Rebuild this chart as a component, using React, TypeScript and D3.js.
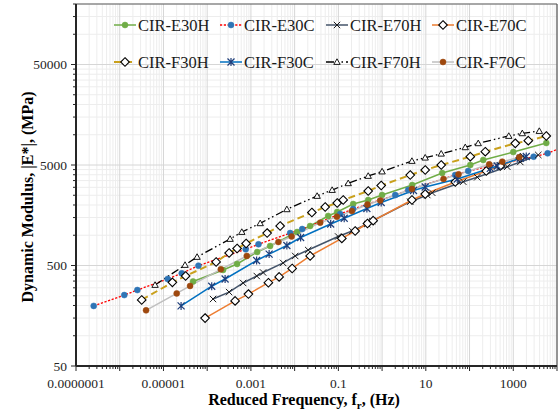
import React from "react";
import * as d3 from "d3";

// ---- data (reduced frequency Hz, dynamic modulus MPa) ----
const seriesNames = ["CIR-E30H", "CIR-E30C", "CIR-E70H", "CIR-E70C", "CIR-F30H", "CIR-F30C", "CIR-F70H", "CIR-F70C"];

const fE30H = [4.75e-5, 2.31e-4, 4.83e-4, 1.39e-3, 2.75e-3, 0.0114, 0.0226, 0.0585, 0.094, 0.218, 0.481, 1.0, 4.89, 23.7, 104, 206, 1000, 5690];
const eE30H = [347, 451, 518, 681, 782, 1077, 1236, 1555, 1703, 2046, 2244, 2513, 3162, 4159, 5000, 5610, 6730, 8280];

const fE30C = [2.54e-7, 1.27e-6, 2.53e-6, 1.25e-5, 2.62e-5, 6.3e-5, 7.6e-4, 1.49e-3, 7.9e-3, 0.0149, 0.11, 0.218, 2.0, 3.95, 47, 93, 2917, 6095, 15500];
const eE30C = [198, 254, 285, 367, 418, 498, 725, 813, 1052, 1153, 1627, 1825, 2512, 2818, 3975, 4356, 6053, 6531, 7727];

const fE70H = [1.36e-4, 3.17e-4, 6.64e-4, 1.36e-3, 1.9e-3, 5.46e-3, 0.0103, 0.0204, 0.0989, 0.207, 0.456, 0.593, 4.4, 10.8, 14.0, 71.8, 150, 729, 1445, 3733];
const eE70H = [232, 272, 335, 393, 426, 530, 622, 713, 972, 1102, 1294, 1387, 2158, 2513, 2649, 3412, 3776, 4808, 5358, 6295];

const fE70C = [8.95e-5, 4.35e-4, 8.77e-4, 2.51e-3, 4.42e-3, 8.77e-3, 0.0226, 0.12, 0.242, 0.463, 0.625, 4.81, 9.68, 47.1, 241, 505, 1445];
const eE70C = [150, 222, 260, 337, 385, 467, 622, 929, 1102, 1309, 1396, 2244, 2570, 3388, 4356, 4887, 5875];

const fF30H = [3.18e-6, 1.6e-5, 3.21e-5, 1.6e-4, 3.17e-4, 4.83e-4, 7.76e-4, 2.35e-3, 4.66e-3, 0.0248, 0.0499, 0.094, 0.129, 0.481, 0.953, 4.4, 9.68, 22.5, 104, 229, 1112, 2203, 5690];
const eF30H = [227, 340, 393, 542, 666, 738, 828, 1052, 1236, 1684, 1910, 2094, 2244, 2756, 3126, 3975, 4458, 5000, 6050, 6780, 8220, 8730, 9720];

const fF30C = [2.53e-5, 1.27e-4, 2.57e-4, 1.35e-3, 2.61e-3, 6.64e-3, 0.0137, 0.0667, 0.136, 0.449, 0.953, 5.23, 9.68, 52.4, 298, 430, 1445, 1982];
const eF30C = [198, 311, 367, 561, 650, 791, 950, 1294, 1476, 1845, 2118, 2786, 3020, 3631, 4634, 4887, 5834, 6081];

const fF70H = [6.43e-6, 3.12e-5, 5.87e-5, 3.34e-4, 6.19e-4, 1.63e-3, 6.64e-3, 0.0327, 0.0721, 0.168, 0.481, 1.0, 4.81, 9.68, 22.5, 79.8, 158, 789, 1607, 3936];
const eF70H = [320, 506, 608, 918, 1077, 1315, 1812, 2460, 2818, 3289, 3890, 4306, 5480, 5915, 6476, 7500, 8220, 9720, 10330, 10890];

const fF70C = [4.0e-6, 2.01e-5, 4.06e-5, 2.05e-4, 8.05e-4, 4.26e-3, 8.53e-3, 0.0384, 0.0925, 0.204, 0.463, 0.906, 4.81, 25.4, 56.0, 282, 560, 1371];
const eF70C = [179, 264, 313, 458, 622, 857, 972, 1334, 1531, 1742, 2023, 2218, 2884, 3631, 4036, 5082, 5395, 5970];

const xTickLabels = ["0.0000001", "0.00001", "0.001", "0.1", "10", "1000"];
const yTickLabels = ["50", "500", "5000", "50000"];

type Marker = "circle" | "diamond" | "x" | "star" | "triangle";
interface Style { line: string; width: number; dash?: string; marker: Marker; mFill: string; mStroke: string; }

const styles: Style[] = [
  { line: "#70AD47", width: 1.5, marker: "circle", mFill: "#70AD47", mStroke: "#70AD47" },
  { line: "#FF0000", width: 1.3, dash: "2.2,1.6", marker: "circle", mFill: "#2E75B6", mStroke: "#2E75B6" },
  { line: "#44546A", width: 1.5, marker: "x", mFill: "none", mStroke: "#1a1a1a" },
  { line: "#ED7D31", width: 1.5, marker: "diamond", mFill: "#ffffff", mStroke: "#000000" },
  { line: "#C9A01C", width: 2, dash: "7,4", marker: "diamond", mFill: "#ffffff", mStroke: "#000000" },
  { line: "#0070C0", width: 1.5, marker: "star", mFill: "none", mStroke: "#1F3E7A" },
  { line: "#000000", width: 1.3, dash: "8,3,1.5,3,1.5,3", marker: "triangle", mFill: "#ffffff", mStroke: "#000000" },
  { line: "#BFBFBF", width: 1.5, marker: "circle", mFill: "#9E480E", mStroke: "#9E480E" },
];

const freqs = [fE30H, fE30C, fE70H, fE70C, fF30H, fF30C, fF70H, fF70C];
const mods = [eE30H, eE30C, eE70H, eE70C, eF30H, eF30C, eF70H, eF70C];

const W = 558, H = 414;
const L = 76, R = 557, T = 4, B = 366;

function MarkerShape({ x, y, s, big }: { x: number; y: number; s: Style; big?: boolean }) {
  switch (s.marker) {
    case "circle":
      return <circle cx={x} cy={y} r={3} fill={s.mFill} stroke={s.mStroke} strokeWidth={0.5} />;
    case "diamond": {
      const r = 4.3;
      return <path d={`M${x},${y - r}L${x + r},${y}L${x},${y + r}L${x - r},${y}Z`} fill={s.mFill} stroke={s.mStroke} strokeWidth={1.1} />;
    }
    case "x": {
      const r = 3.2;
      return <path d={`M${x - r},${y - r}L${x + r},${y + r}M${x - r},${y + r}L${x + r},${y - r}`} stroke={s.mStroke} strokeWidth={1} fill="none" />;
    }
    case "star": {
      const r = 3.5;
      return <path d={`M${x - r},${y - r}L${x + r},${y + r}M${x - r},${y + r}L${x + r},${y - r}M${x},${y - r - 0.5}L${x},${y + r + 0.5}`} stroke={s.mStroke} strokeWidth={1.2} fill="none" />;
    }
    case "triangle": {
      const r = 3.2;
      return <path d={`M${x},${y - r}L${x + r},${y + r * 0.75}L${x - r},${y + r * 0.75}Z`} fill={s.mFill} stroke={s.mStroke} strokeWidth={0.9} />;
    }
  }
  return null;
}

export default function App() {
  const x = d3.scaleLog().domain([1e-7, 1e4]).range([L, R]);
  const y = d3.scaleLog().domain([50, 200000]).range([B, T]);

  const xMajor: number[] = [];
  const xMinor: number[] = [];
  for (let e = -7; e <= 4; e++) {
    xMajor.push(Math.pow(10, e));
    if (e < 4) for (let k = 2; k <= 9; k++) xMinor.push(k * Math.pow(10, e));
  }
  const yMajor = [50, 500, 5000, 50000];
  const yMinor: number[] = [];
  yMajor.forEach((b) => { for (let k = 2; k <= 9; k++) if (k * b <= 200000) yMinor.push(k * b); });
  [50000 * 10].forEach(() => {});

  const lineGen = d3.line<[number, number]>().x((d) => x(d[0])).y((d) => y(d[1]));

  const legendX = [114, 220, 326, 432];
  const legendY = [25, 62];

  const font = "'Liberation Serif', 'Times New Roman', serif";

  return (
    <svg width={W} height={H} style={{ position: "absolute", left: 0, top: 0, background: "#fff" }} fontFamily={font}>
      <defs>
        <clipPath id="plot"><rect x={L} y={T} width={R - L} height={B - T} /></clipPath>
      </defs>
      <rect x={0} y={0} width={W} height={H} fill="#fff" />
      {/* minor grid */}
      {xMinor.map((v, i) => <line key={"xm" + i} x1={x(v)} x2={x(v)} y1={T} y2={B} stroke="#EDEDED" strokeWidth={1} />)}
      {yMinor.map((v, i) => <line key={"ym" + i} x1={L} x2={R} y1={y(v)} y2={y(v)} stroke="#EDEDED" strokeWidth={1} />)}
      {/* major grid */}
      {xMajor.map((v, i) => <line key={"xM" + i} x1={x(v)} x2={x(v)} y1={T} y2={B} stroke="#D6D6D6" strokeWidth={1} />)}
      {yMajor.map((v, i) => <line key={"yM" + i} x1={L} x2={R} y1={y(v)} y2={y(v)} stroke="#D6D6D6" strokeWidth={1} />)}

      {/* border */}
      <line x1={L} x2={R} y1={T} y2={T} stroke="#595959" strokeWidth={1.2} />
      <line x1={R} x2={R} y1={T} y2={B} stroke="#595959" strokeWidth={1.2} />

      {/* series */}
      <g clipPath="url(#plot)">
        {styles.map((s, i) => {
          const pts = freqs[i].map((f, j) => [f, mods[i][j]] as [number, number]);
          return <path key={"l" + i} d={lineGen(pts) || ""} fill="none" stroke={s.line} strokeWidth={s.width} strokeDasharray={s.dash} />;
        })}
        {styles.map((s, i) => (
          <g key={"m" + i}>
            {freqs[i].map((f, j) => <MarkerShape key={j} x={x(f)} y={y(mods[i][j])} s={s} />)}
          </g>
        ))}
      </g>

      {/* axes */}
      <line x1={L} x2={L} y1={T} y2={B} stroke="#262626" strokeWidth={2} />
      <line x1={L} x2={R} y1={B} y2={B} stroke="#262626" strokeWidth={2} />
      {xMajor.map((v, i) => <line key={"xt" + i} x1={x(v)} x2={x(v)} y1={B} y2={B + 5} stroke="#262626" strokeWidth={1} />)}
      {xMinor.map((v, i) => <line key={"xmt" + i} x1={x(v)} x2={x(v)} y1={B} y2={B + 3} stroke="#262626" strokeWidth={1} />)}
      {yMajor.map((v, i) => <line key={"yt" + i} x1={L - 5} x2={L} y1={y(v)} y2={y(v)} stroke="#262626" strokeWidth={1} />)}
      {yMinor.map((v, i) => <line key={"ymt" + i} x1={L - 3} x2={L} y1={y(v)} y2={y(v)} stroke="#262626" strokeWidth={1} />)}

      {xTickLabels.map((t) => (
        <text key={t} x={x(+t)} y={388} textAnchor="middle" fontSize={13.5} fill="#262626">{t}</text>
      ))}
      {yTickLabels.map((t) => (
        <text key={t} x={67} y={y(+t) + 4.5} textAnchor="end" fontSize={13.5} fill="#262626">{t}</text>
      ))}

      <text x={304} y={405} textAnchor="middle" fontSize={16} fontWeight="bold" fill="#000">
        Reduced Frequency, f<tspan fontSize={11} dy={4}>r</tspan><tspan dy={-4}>, (Hz)</tspan>
      </text>
      <text transform={`translate(33,${(T + B) / 2 + 12}) rotate(-90)`} textAnchor="middle" fontSize={16} fontWeight="bold" fill="#000">
        Dynamic Modulus, |E*|, (MPa)
      </text>

      {/* legend */}
      {seriesNames.map((n, i) => {
        const lx = legendX[i % 4];
        const ly = legendY[Math.floor(i / 4)];
        const s = styles[i];
        return (
          <g key={n}>
            <line x1={lx} x2={lx + 22} y1={ly} y2={ly} stroke={s.line} strokeWidth={s.width} strokeDasharray={s.dash} />
            <MarkerShape x={lx + 11} y={ly} s={s} />
            <text x={lx + 24} y={ly + 5.5} fontSize={16.5} fill="#1a1a1a">{n}</text>
          </g>
        );
      })}
    </svg>
  );
}
